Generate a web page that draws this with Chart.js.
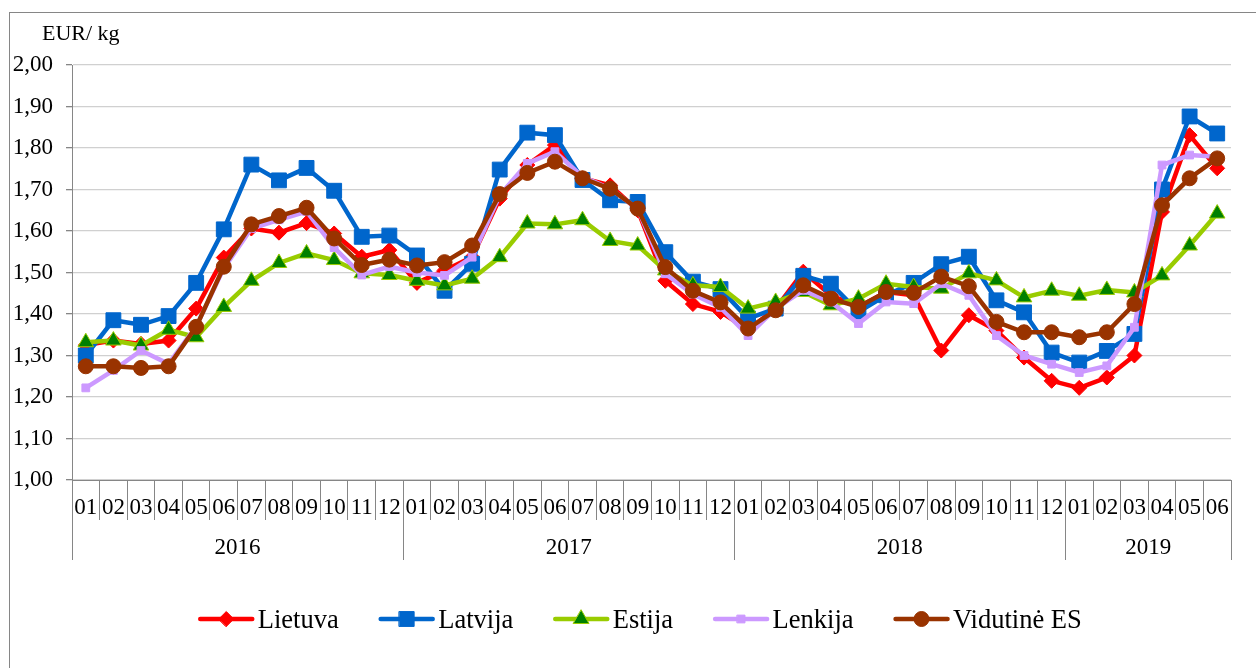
<!DOCTYPE html>
<html>
<head>
<meta charset="utf-8">
<script src="https://cdn.jsdelivr.net/npm/chart.js@4/dist/chart.umd.min.js"></script>
<style>
  html, body { margin: 0; padding: 0; background: #fff; }
  #wrap { width: 1256px; height: 668px; }
</style>
</head>
<body>
<div id="wrap"><canvas id="myChart" width="1256" height="668"></canvas></div>
<script>
// months on the axis, grouped by year
const months = ['01','02','03','04','05','06','07','08','09','10','11','12',
                '01','02','03','04','05','06','07','08','09','10','11','12',
                '01','02','03','04','05','06','07','08','09','10','11','12',
                '01','02','03','04','05','06'];
const years = ['2016', '2017', '2018', '2019'];
const monthsPerYear = [12, 12, 12, 6];

const lietuva = [1.325, 1.336, 1.328, 1.336, 1.413, 1.536, 1.606, 1.596, 1.619, 1.594, 1.538, 1.554,
                 1.475, 1.505, 1.537, 1.678, 1.759, 1.807, 1.727, 1.710, 1.650, 1.480, 1.424, 1.405,
                 1.362, 1.413, 1.502, 1.445, 1.417, 1.453, 1.445, 1.312, 1.397, 1.360, 1.295, 1.239,
                 1.222, 1.247, 1.300, 1.646, 1.831, 1.751];
const latvija = [1.300, 1.385, 1.374, 1.395, 1.475, 1.604, 1.760, 1.722, 1.752, 1.697, 1.586, 1.589,
                 1.541, 1.456, 1.521, 1.748, 1.837, 1.831, 1.723, 1.674, 1.670, 1.549, 1.478, 1.460,
                 1.389, 1.413, 1.492, 1.473, 1.405, 1.445, 1.475, 1.520, 1.538, 1.433, 1.404, 1.307,
                 1.283, 1.311, 1.352, 1.700, 1.876, 1.835];
const estija = [1.332, 1.336, 1.324, 1.362, 1.344, 1.417, 1.480, 1.523, 1.546, 1.530, 1.498, 1.494,
                1.480, 1.469, 1.485, 1.537, 1.618, 1.616, 1.626, 1.576, 1.565, 1.505, 1.469, 1.465,
                1.413, 1.429, 1.453, 1.421, 1.437, 1.473, 1.465, 1.461, 1.498, 1.481, 1.440, 1.456,
                1.444, 1.458, 1.452, 1.493, 1.565, 1.642];
const lenkija = [1.222, 1.264, 1.312, 1.280, 1.370, 1.510, 1.606, 1.627, 1.647, 1.560, 1.494, 1.514,
                 1.500, 1.493, 1.537, 1.686, 1.763, 1.791, 1.731, 1.702, 1.654, 1.497, 1.448, 1.416,
                 1.348, 1.413, 1.457, 1.429, 1.377, 1.429, 1.425, 1.473, 1.445, 1.348, 1.300, 1.279,
                 1.259, 1.275, 1.368, 1.759, 1.783, 1.779];
const vidutineES = [1.274, 1.274, 1.270, 1.274, 1.369, 1.514, 1.616, 1.636, 1.656, 1.582, 1.518, 1.531,
                    1.517, 1.525, 1.565, 1.689, 1.740, 1.767, 1.727, 1.702, 1.654, 1.513, 1.456, 1.428,
                    1.365, 1.409, 1.469, 1.437, 1.417, 1.453, 1.451, 1.490, 1.467, 1.381, 1.356, 1.356,
                    1.344, 1.356, 1.424, 1.662, 1.727, 1.775];

const serif = '"Liberation Serif", "Times New Roman", serif';
const axisGray = '#868686';

function series(label, data, color, style, radius, fill, border, order) {
    return {
        label: label,
        data: data,
        borderColor: color,
        backgroundColor: fill || color,
        borderWidth: 4.5,
        tension: 0,
        pointStyle: style,
        pointRadius: radius,
        pointHoverRadius: radius,
        pointBackgroundColor: fill || color,
        pointBorderColor: border || color,
        pointBorderWidth: 1,
        order: order
    };
}

// outer frame + unit label
const frame = {
    id: 'frame',
    beforeDraw(chart) {
        const ctx = chart.ctx;
        ctx.save();
        ctx.fillStyle = '#fff';
        ctx.fillRect(0, 0, chart.width, chart.height);
        ctx.strokeStyle = axisGray;
        ctx.lineWidth = 1;
        ctx.strokeRect(9.5, 12.5, 1400, 800);
        ctx.fillStyle = '#000';
        ctx.font = '22px ' + serif;
        ctx.textBaseline = 'alphabetic';
        ctx.fillText('EUR/ kg', 42, 40);
        ctx.restore();
    }
};

// year row under the month labels
const yearRow = {
    id: 'yearRow',
    afterDraw(chart) {
        const ctx = chart.ctx, x = chart.scales.x, area = chart.chartArea;
        const half = (x.getPixelForValue(1) - x.getPixelForValue(0)) / 2;
        const edge = i => x.getPixelForValue(i) - half;
        ctx.save();
        ctx.strokeStyle = axisGray;
        ctx.lineWidth = 1;
        ctx.fillStyle = '#000';
        ctx.font = '23px ' + serif;
        ctx.textAlign = 'center';
        ctx.textBaseline = 'middle';
        let start = 0;
        years.forEach((yr, k) => {
            const l = edge(start), r = edge(start + monthsPerYear[k]);
            ctx.beginPath();
            ctx.moveTo(Math.round(l) + 0.5, area.bottom);
            ctx.lineTo(Math.round(l) + 0.5, area.bottom + 80);
            ctx.moveTo(Math.round(r) + 0.5, area.bottom);
            ctx.lineTo(Math.round(r) + 0.5, area.bottom + 80);
            ctx.stroke();
            ctx.fillText(yr, (l + r) / 2, area.bottom + 68);
            start += monthsPerYear[k];
        });
        ctx.restore();
    }
};

// line + marker legend
const lineLegend = {
    id: 'lineLegend',
    afterDraw(chart) {
        const ctx = chart.ctx;
        const sets = chart.data.datasets;
        const lineLen = 56, gapText = 3.5, gapItem = 40;
        ctx.save();
        ctx.font = '26.5px ' + serif;
        const widths = sets.map(d => ctx.measureText(d.label).width);
        let total = widths.reduce((a, b) => a + b, 0) + sets.length * (lineLen + gapText) + (sets.length - 1) * gapItem;
        let cx = 640 - total / 2;
        const cy = 619;
        sets.forEach((d, i) => {
            ctx.strokeStyle = d.borderColor;
            ctx.lineWidth = 4.5;
            ctx.lineCap = 'round';
            ctx.beginPath();
            ctx.moveTo(cx + 2, cy);
            ctx.lineTo(cx + lineLen - 2, cy);
            ctx.stroke();
            ctx.fillStyle = d.pointBackgroundColor;
            ctx.strokeStyle = d.pointBorderColor;
            ctx.lineWidth = 1;
            if (Chart.helpers && Chart.helpers.drawPoint) {
                Chart.helpers.drawPoint(ctx, {pointStyle: d.pointStyle, radius: d.pointRadius, rotation: 0, borderWidth: 1}, cx + lineLen / 2, cy);
            }
            ctx.fillStyle = '#000';
            ctx.textBaseline = 'alphabetic';
            ctx.fillText(d.label, cx + lineLen + gapText, cy + 9);
            cx += lineLen + gapText + widths[i] + gapItem;
        });
        ctx.restore();
    }
};

const ctx = document.getElementById('myChart').getContext('2d');
const myChart = new Chart(ctx, {
    type: 'line',
    data: {
        labels: months,
        datasets: [
            series('Lietuva', lietuva, '#FF0000', 'rectRot', 7.5, null, null, 5),
            series('Latvija', latvija, '#0066CC', 'rect', 10.5, null, null, 4),
            series('Estija', estija, '#99CC00', 'triangle', 9, '#008000', '#99CC00', 3),
            series('Lenkija', lenkija, '#CC99FF', 'rect', 5.5, null, null, 2),
            series('Vidutinė ES', vidutineES, '#993300', 'circle', 7.5, null, null, 1)
        ]
    },
    options: {
        responsive: false,
        animation: false,
        devicePixelRatio: 1,
        layout: { padding: { top: 65, right: 25, bottom: 108, left: 0 } },
        plugins: {
            legend: { display: false },
            tooltip: { enabled: false }
        },
        scales: {
            x: {
                type: 'category',
                offset: true,
                grid: {
                    offset: true,
                    drawOnChartArea: false,
                    drawTicks: true,
                    tickLength: 40,
                    color: axisGray
                },
                border: { display: true, color: axisGray },
                ticks: {
                    autoSkip: false,
                    maxRotation: 0,
                    minRotation: 0,
                    padding: -26,
                    color: '#000',
                    font: { family: serif, size: 23 }
                },
                afterFit(scale) { scale.height = 80; }
            },
            y: {
                min: 1,
                max: 2,
                grid: {
                    color: '#D0D0D0',
                    lineWidth: 1.3,
                    tickColor: axisGray,
                    tickLength: 6
                },
                border: { display: true, color: axisGray },
                ticks: {
                    stepSize: 0.1,
                    padding: 13,
                    color: '#000',
                    font: { family: serif, size: 23 },
                    callback: v => v.toFixed(2).replace('.', ',')
                },
                afterFit(scale) { scale.width = 72; }
            }
        }
    },
    plugins: [frame, yearRow, lineLegend]
});
</script>
</body>
</html>
